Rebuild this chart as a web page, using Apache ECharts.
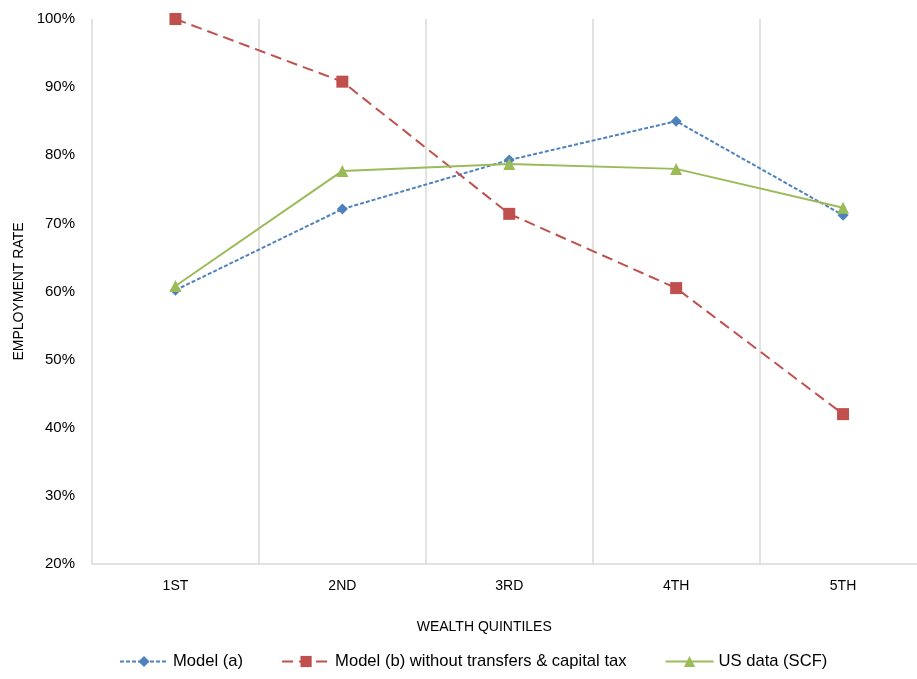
<!DOCTYPE html>
<html><head><meta charset="utf-8">
<script src="https://cdn.jsdelivr.net/npm/echarts@6/dist/echarts.min.js"></script>
<style>html,body{margin:0;padding:0;background:#fff;overflow:hidden}#c{width:927px;height:679px}</style>
</head><body><div id="c"></div>
<script>
const categories = ['1ST', '2ND', '3RD', '4TH', '5TH'];
const modelA = [60.2, 72.1, 79.3, 85.0, 71.2];
const modelB = [100.0, 90.8, 71.4, 60.5, 42.0];
const usData = [60.8, 77.7, 78.7, 78.0, 72.3];
const seriesNames = ['Model (a)', 'Model (b) without transfers & capital tax', 'US data (SCF)'];
const yTicks = [20, 30, 40, 50, 60, 70, 80, 90, 100];

const font = 'Liberation Sans, Arial, sans-serif';
const chart = echarts.init(document.getElementById('c'), null, {renderer: 'canvas'});
chart.setOption({
  animation: false,
  grid: {left: 92, right: 0.5, top: 19, bottom: 115},
  legend: {
    bottom: 4, left: 114,
    itemWidth: 48, itemHeight: 14, itemGap: 38,
    textStyle: {fontFamily: font, fontSize: 16.6, color: '#000'},
    data: seriesNames
  },
  xAxis: {
    type: 'category', data: categories, boundaryGap: true,
    name: 'WEALTH QUINTILES', nameLocation: 'middle', nameGap: 56,
    nameTextStyle: {fontFamily: font, fontSize: 14, color: '#000', padding: [0, 50, 0, 0]},
    axisLine: {lineStyle: {color: '#d9d9d9', width: 1.5}},
    axisTick: {show: false},
    axisLabel: {fontFamily: font, fontSize: 14, color: '#000', margin: 15},
    splitLine: {show: true, lineStyle: {color: '#d9d9d9', width: 1.5}}
  },
  yAxis: {
    type: 'value', min: 20, max: 100, interval: 10,
    name: 'EMPLOYMENT RATE', nameLocation: 'middle', nameGap: 64, nameRotate: 90,
    nameTextStyle: {fontFamily: font, fontSize: 14, color: '#000'},
    axisLine: {show: false}, axisTick: {show: false},
    axisLabel: {fontFamily: font, fontSize: 15, color: '#000', margin: 17, formatter: v => yTicks.includes(v) ? v + '%' : ''},
    splitLine: {show: false}
  },
  series: [
    {name: seriesNames[0], type: 'line', data: modelA, symbol: 'diamond', symbolSize: 11,
     itemStyle: {color: '#4F81BD'}, lineStyle: {color: '#4F81BD', width: 2, type: [4, 2]}},
    {name: seriesNames[1], type: 'line', data: modelB, symbol: 'rect', symbolSize: 12,
     itemStyle: {color: '#C0504D'}, lineStyle: {color: '#C0504D', width: 2, type: [11, 6]}},
    {name: seriesNames[2], type: 'line', data: usData, symbol: 'triangle', symbolSize: 12,
     itemStyle: {color: '#9BBB59'}, lineStyle: {color: '#9BBB59', width: 2, type: 'solid'}}
  ]
});
</script></body></html>
